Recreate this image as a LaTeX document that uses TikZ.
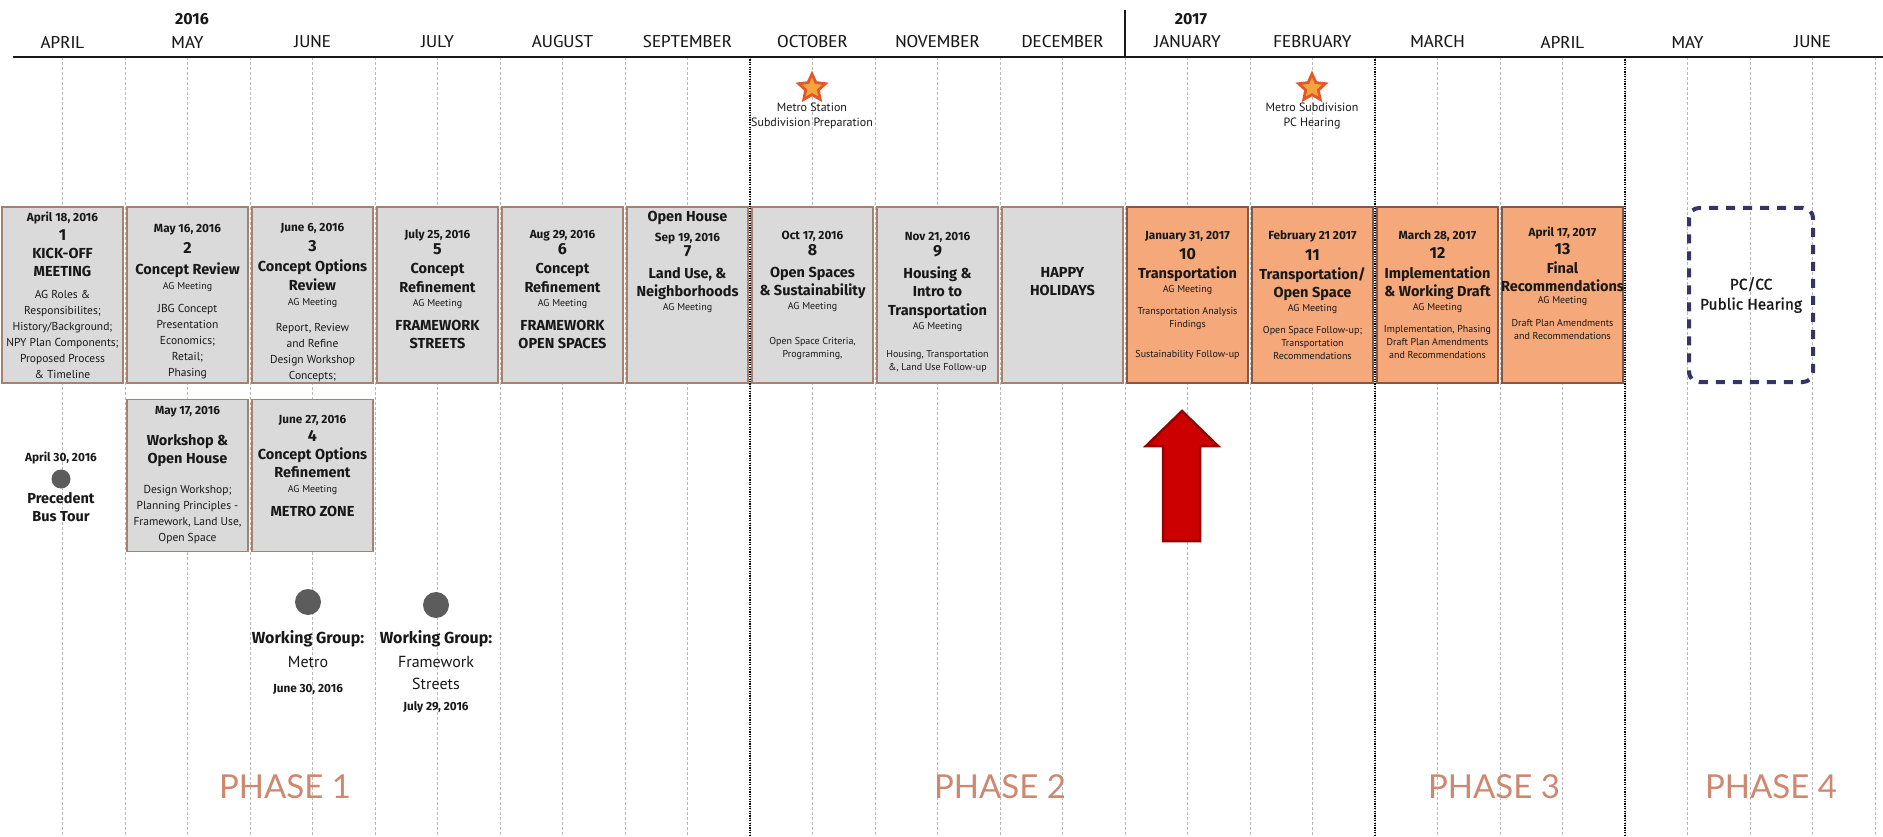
\documentclass[tikz,border=0pt]{standalone}
\usepackage{fontspec}
\setmainfont{PT Sans}
\newfontfamily\heavy{Fira Sans}
\newfontfamily\medium{Fira Sans}[FakeBold=1]
\newfontfamily\monthfont{PT Sans Narrow}[FakeStretch=1.25]
\newfontfamily\phasefont{Lato}
\usetikzlibrary{positioning, shapes.geometric}

\definecolor{boxgray}{RGB}{218,218,218}
\definecolor{boxedge}{RGB}{168,128,112}
\definecolor{agorange}{RGB}{245,168,122}
\definecolor{agedge}{RGB}{132,88,68}
\definecolor{ink}{RGB}{24,24,24}
\definecolor{phasecol}{RGB}{206,136,112}
\definecolor{navy}{RGB}{52,52,102}
\definecolor{dotgray}{RGB}{92,92,92}
\definecolor{gridgray}{RGB}{185,185,185}
\definecolor{starred}{RGB}{226,88,40}
\definecolor{staryellow}{RGB}{246,164,60}
\definecolor{arrowred}{RGB}{204,0,0}
\definecolor{arrowedge}{RGB}{150,0,0}

\newcommand\dtfont{\heavy\bfseries\fontsize{11.8}{13}\selectfont}
\newcommand\numfont{\heavy\bfseries\fontsize{16}{18}\selectfont}
\newcommand\ttlfont{\heavy\bfseries\fontsize{14.5}{16}\selectfont}
\newcommand\wgfont{\heavy\bfseries\fontsize{16}{17}\selectfont}
\newcommand\agfont{\fontsize{10}{11}\selectfont}
\newcommand\smallbody{\fontsize{10}{12}\selectfont}
\newcommand\wide[1]{\makebox[0pt]{#1}}

\begin{document}
\begin{tikzpicture}[x=1pt, y=-1pt, color=ink, font=\fontsize{11.5}{16}\selectfont, node distance=2.5pt,
  mtg/.style={draw=boxedge, fill=boxgray, line width=1.5pt, minimum width=121pt, minimum height=176pt, inner sep=1pt, align=center},
  agmtg/.style={mtg, draw=agedge, fill=agorange},
  wkbox/.style={mtg, minimum height=152pt},
  month/.style={font=\monthfont\fontsize{17}{20}\selectfont},
  year/.style={font=\heavy\bfseries\fontsize{16}{18}\selectfont},
  gridline/.style={draw=gridgray, line width=0.8pt, dash pattern=on 3pt off 2pt},
  phaseline/.style={draw=black, line width=2.6pt, dash pattern=on 1.2pt off 1.2pt},
  phase/.style={font=\phasefont\fontsize{33}{40}\selectfont, text=phasecol},
  evdot/.style={circle, fill=dotgray, minimum size=19pt, inner sep=0pt},
  milestone/.style={star, star points=5, star point ratio=2.1, minimum size=28pt, inner sep=0pt, draw=starred, fill=staryellow, line width=2.8pt},
  note/.style={font=\fontsize{12}{15.5}\selectfont, align=center},
  wgnote/.style={align=center, font=\fontsize{16}{17}\selectfont},
  hearing/.style={draw=navy, line width=4pt, dash pattern=on 9pt off 8pt, rounded corners=10pt, minimum width=124pt, minimum height=174pt, align=center, font=\medium\fontsize{15.5}{20}\selectfont}]
  \useasboundingbox[fill=white] (0,0) rectangle (1883,837);

  \foreach \k in {1,...,30} \draw[gridline] ({62.5*\k},57) -- ({62.5*\k},837);
  \foreach \x in {750,1375,1625} \draw[phaseline] (\x,57) -- (\x,837);
  \draw[line width=2pt] (13,57) -- (1883,57);
  \draw[line width=2pt] (1125,10) -- (1125,57);

  \foreach \m [count=\i from 0] in {APRIL,MAY,JUNE,JULY,AUGUST,SEPTEMBER,OCTOBER,NOVEMBER,DECEMBER,JANUARY,FEBRUARY,MARCH,APRIL,MAY,JUNE}
    \node[month] (mo\i) at ({62.5+125*\i},42) {\m};
  \node[year] (y16) at (192,19) {2016};
  \node[year] (y17) at (1191,19) {2017};

  \node[milestone] (st1) at (812,88) {};
  \node[note, below=3pt of st1] (st1txt) {Metro Station\\Subdivision Preparation};
  \node[milestone] (st2) at (1312,88) {};
  \node[note, below=3pt of st2] (st2txt) {Metro Subdivision\\PC Hearing};

  \node[mtg] (m1) at (62.5,295) {{\dtfont April 18, 2016}\\[3pt]{\numfont 1}\\[2pt]{\ttlfont KICK-OFF}\\[2pt]{\ttlfont MEETING}\\[6pt]AG Roles \&\\Responsibilites;\\History/Background;\\\wide{NPY Plan Components;}\\Proposed Process\\\& Timeline};
  \node[mtg] (m2) at (187.5,295) {{}\\[6pt]{\dtfont May 16, 2016}\\[5pt]{\numfont 2}\\[5pt]{\ttlfont Concept Review}\\[-1pt]{\agfont AG Meeting}\\[7pt]JBG Concept\\Presentation\\Economics;\\Retail;\\Phasing};
  \node[mtg] (m3) at (312.5,295) {{}\\[8pt]{\dtfont June 6, 2016}\\[4pt]{\numfont 3}\\[4pt]{\ttlfont\wide{Concept Options}}\\[3pt]{\ttlfont Review}\\[-1pt]{\agfont AG Meeting}\\[10pt]Report, Review\\and Refine\\Design Workshop\\Concepts;};
  \node[mtg] (m5) at (437.5,295) {{\dtfont July 25, 2016}\\[0pt]{\numfont 5}\\[3pt]{\ttlfont Concept}\\[3pt]{\ttlfont Refinement}\\[-2pt]{\agfont AG Meeting}\\[8pt]{\ttlfont FRAMEWORK}\\[2pt]{\ttlfont STREETS}\\[-4pt]{}};
  \node[mtg] (m6) at (562.5,295) {{\dtfont Aug 29, 2016}\\[0pt]{\numfont 6}\\[3pt]{\ttlfont Concept}\\[3pt]{\ttlfont Refinement}\\[-2pt]{\agfont AG Meeting}\\[8pt]{\ttlfont FRAMEWORK}\\[2pt]{\ttlfont OPEN SPACES}\\[-4pt]{}};
  \node[mtg] (m7) at (687.5,295) {{\ttlfont Open House}\\[4pt]{\dtfont Sep 19, 2016}\\[-1pt]{\numfont 7}\\[6pt]{\ttlfont Land Use, \&}\\[2pt]{\ttlfont\wide{Neighborhoods}}\\[-2pt]{\agfont AG Meeting}\\[52pt]{}};
  \node[mtg] (m8) at (812.5,295) {{\dtfont Oct 17, 2016}\\[0pt]{\numfont 8}\\[6pt]{\ttlfont Open Spaces}\\[2pt]{\ttlfont\wide{\& Sustainability}}\\[-2pt]{\agfont AG Meeting}\\[19pt]{\smallbody Open Space Criteria,}\\[-3pt]{\smallbody Programming,}};
  \node[mtg] (m9) at (937.5,295) {{}\\[6pt]{\dtfont Nov 21, 2016}\\[0pt]{\numfont 9}\\[6pt]{\ttlfont Housing \&}\\[2pt]{\ttlfont Intro to}\\[3pt]{\ttlfont\wide{Transportation}}\\[-2pt]{\agfont AG Meeting}\\[12pt]{\smallbody Housing, Transportation}\\[-3pt]{\smallbody \&, Land Use Follow-up}};
  \node[mtg] (hh) at (1062.5,295) {{\ttlfont HAPPY}\\[2pt]{\ttlfont HOLIDAYS}\\[12pt]{}};
  \node[agmtg] (m10) at (1187.5,295) {{\dtfont\wide{January 31, 2017}}\\[4pt]{\numfont 10}\\[3pt]{\ttlfont\wide{Transportation}}\\[-2pt]{\agfont AG Meeting}\\[6pt]{\smallbody Transportation Analysis}\\[-3pt]{\smallbody Findings}\\[14pt]{\smallbody Sustainability Follow-up}};
  \node[agmtg] (m11) at (1312.5,295) {{\dtfont\wide{February 21 2017}}\\[5pt]{\numfont 11}\\[3pt]{\ttlfont\wide{Transportation/}}\\[2pt]{\ttlfont Open Space}\\[-2pt]{\agfont AG Meeting}\\[6pt]{\smallbody Open Space Follow-up;}\\[-3pt]{\smallbody Transportation}\\[-3pt]{\smallbody Recommendations}};
  \node[agmtg] (m12) at (1437.5,295) {{\dtfont March 28, 2017}\\[3pt]{\numfont 12}\\[4pt]{\ttlfont\wide{Implementation}}\\[2pt]{\ttlfont\wide{\& Working Draft}}\\[-2pt]{\agfont AG Meeting}\\[6pt]{\smallbody\wide{Implementation, Phasing}}\\[-3pt]{\smallbody\wide{Draft Plan Amendments}}\\[-3pt]{\smallbody\wide{and Recommendations}}};
  \node[agmtg] (m13) at (1562.5,295) {{\dtfont April 17, 2017}\\[2pt]{\numfont 13}\\[3pt]{\ttlfont Final}\\[2pt]{\ttlfont\wide{Recommendations}}\\[-4pt]{\agfont AG Meeting}\\[7pt]{\smallbody Draft Plan Amendments}\\[-3pt]{\smallbody and Recommendations}\\[8pt]{}};
  \node[hearing] (pc) at (1751,295) {PC/CC\\Public Hearing};

  \node[wkbox, below=15pt of m2] (ws) {{\dtfont May 17, 2016}\\[15pt]{\ttlfont Workshop \&}\\[2pt]{\ttlfont Open House}\\[14pt]Design Workshop;\\\wide{Planning Principles -}\\\wide{Framework, Land Use,}\\Open Space};
  \node[wkbox, right=of ws] (m4) {{\dtfont June 27, 2016}\\[2pt]{\numfont 4}\\[2pt]{\ttlfont\wide{Concept Options}}\\[2pt]{\ttlfont Refinement}\\[-1pt]{\agfont AG Meeting}\\[8pt]{\ttlfont METRO ZONE}\\[4pt]{}};

  \node[evdot] (bus) at (61,479) {};
  \node[above=2pt of bus, font=\dtfont] (busdate) {April 30, 2016};
  \node[below=0pt of bus, align=center, font=\ttlfont] (bustxt) {Precedent\\[2pt]Bus Tour};

  \node[evdot, minimum size=26pt] (wg1) at (308,602) {};
  \node[wgnote, below=12pt of wg1] (wg1txt) {{\wgfont Working Group:}\\[7pt]Metro\\[8pt]{\dtfont June 30, 2016}};
  \node[evdot, minimum size=26pt] (wg2) at (436,605) {};
  \node[wgnote, below=9pt of wg2] (wg2txt) {{\wgfont Working Group:}\\[7pt]Framework\\[5pt]Streets\\[4pt]{\dtfont July 29, 2016}};

  \draw[fill=arrowred, draw=arrowedge, line width=2.5pt] (1182,411) -- (1218,446) -- (1200,446) -- (1200,541) -- (1163,541) -- (1163,446) -- (1146,446) -- cycle;

  \node[phase] (ph1) at (285,787) {PHASE 1};
  \node[phase] (ph2) at (1000,787) {PHASE 2};
  \node[phase] (ph3) at (1494,787) {PHASE 3};
  \node[phase] (ph4) at (1771,787) {PHASE 4};
\end{tikzpicture}
\end{document}
